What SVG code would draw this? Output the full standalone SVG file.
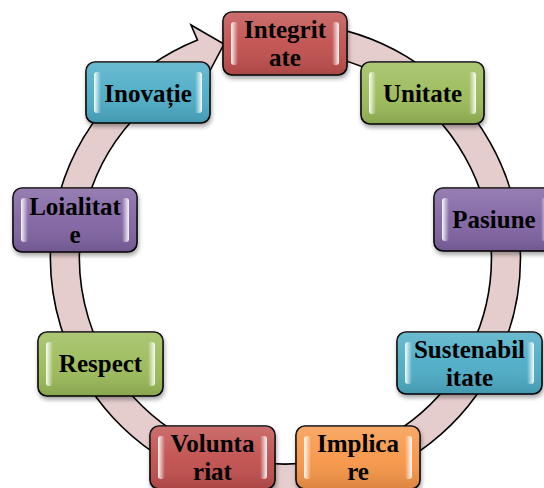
<svg xmlns="http://www.w3.org/2000/svg" width="544" height="488" viewBox="0 0 544 488">
<defs>
<style>
.ring{fill:#E6CDCD;stroke:#000;stroke-width:1.6;stroke-linejoin:miter}
.box{stroke:#000;stroke-width:1.6}
.ov{fill:url(#shade);stroke:none}
.hl{fill:url(#hlL)}
.hr{fill:url(#hlR)}
.t{font-family:"Liberation Serif","Times New Roman",serif;font-weight:bold;font-size:25px;fill:#000;text-anchor:middle}
.red{fill:#C0504D}
.green{fill:#9BBB59}
.purple{fill:#8064A2}
.blue{fill:#4BACC6}
.orange{fill:#F79646}
</style>
<linearGradient id="shade" x1="0" y1="0" x2="0" y2="1">
<stop offset="0" stop-color="#fff" stop-opacity="0.18"/>
<stop offset="0.5" stop-color="#fff" stop-opacity="0.05"/>
<stop offset="1" stop-color="#000" stop-opacity="0.12"/>
</linearGradient>
<linearGradient id="hlL" x1="0" y1="0" x2="1" y2="0">
<stop offset="0" stop-color="#fff" stop-opacity="0.95"/>
<stop offset="1" stop-color="#fff" stop-opacity="0"/>
</linearGradient>
<linearGradient id="hlR" x1="1" y1="0" x2="0" y2="0">
<stop offset="0" stop-color="#fff" stop-opacity="0.95"/>
<stop offset="1" stop-color="#fff" stop-opacity="0"/>
</linearGradient>
<filter id="sh" x="-10%" y="-10%" width="130%" height="140%">
<feDropShadow dx="1" dy="3" stdDeviation="2" flood-color="#000" flood-opacity="0.35"/>
</filter>
</defs>
<rect width="544" height="488" fill="#fff"/>
<g id="connectors">
<path class="ring" d="M 306,23.9 A 235 235 0 1 1 197.5,40.1 L 191,25 L 224,44 L 205,80 L 208.3,67 A 206 206 0 1 0 303.5,52.8 Z"/>
</g>
<g id="integritate" transform="translate(223,12)">
<rect class="box red" width="124" height="63" rx="9" filter="url(#sh)"/>
<rect class="ov" width="124" height="63" rx="9"/>
<rect class="hl" x="8" y="10" width="7" height="43" rx="3"/>
<rect class="hr" x="109" y="10" width="7" height="43" rx="3"/>
<text class="t" x="62" y="26">Integrit</text>
<text class="t" x="62" y="54">ate</text>
</g>
<g id="unitate" transform="translate(361,62)">
<rect class="box green" width="123" height="62" rx="9" filter="url(#sh)"/>
<rect class="ov" width="123" height="62" rx="9"/>
<rect class="hl" x="8" y="10" width="7" height="42" rx="3"/>
<rect class="hr" x="108" y="10" width="7" height="42" rx="3"/>
<text class="t" x="61.5" y="40">Unitate</text>
</g>
<g id="pasiune" transform="translate(434,188)">
<rect class="box purple" width="122" height="63" rx="9" filter="url(#sh)"/>
<rect class="ov" width="122" height="63" rx="9"/>
<rect class="hl" x="8" y="10" width="7" height="43" rx="3"/>
<rect class="hr" x="107" y="10" width="7" height="43" rx="3"/>
<text class="t" x="60" y="40">Pasiune</text>
</g>
<g id="sustenabilitate" transform="translate(397,332)">
<rect class="box blue" width="145" height="62" rx="9" filter="url(#sh)"/>
<rect class="ov" width="145" height="62" rx="9"/>
<rect class="hl" x="8" y="10" width="7" height="42" rx="3"/>
<rect class="hr" x="130" y="10" width="7" height="42" rx="3"/>
<text class="t" x="72.5" y="25.5">Sustenabil</text>
<text class="t" x="72.5" y="53.5">itate</text>
</g>
<g id="implicare" transform="translate(296,426)">
<rect class="box orange" width="124" height="63" rx="9" filter="url(#sh)"/>
<rect class="ov" width="124" height="63" rx="9"/>
<rect class="hl" x="8" y="10" width="7" height="43" rx="3"/>
<rect class="hr" x="109" y="10" width="7" height="43" rx="3"/>
<text class="t" x="62" y="26">Implica</text>
<text class="t" x="62" y="54">re</text>
</g>
<g id="voluntariat" transform="translate(150,426)">
<rect class="box red" width="125" height="63" rx="9" filter="url(#sh)"/>
<rect class="ov" width="125" height="63" rx="9"/>
<rect class="hl" x="8" y="10" width="7" height="43" rx="3"/>
<rect class="hr" x="110" y="10" width="7" height="43" rx="3"/>
<text class="t" x="62.5" y="26">Volunta</text>
<text class="t" x="62.5" y="54">riat</text>
</g>
<g id="respect" transform="translate(38,332)">
<rect class="box green" width="125" height="64" rx="9" filter="url(#sh)"/>
<rect class="ov" width="125" height="64" rx="9"/>
<rect class="hl" x="8" y="10" width="7" height="44" rx="3"/>
<rect class="hr" x="110" y="10" width="7" height="44" rx="3"/>
<text class="t" x="62.5" y="40">Respect</text>
</g>
<g id="loialitate" transform="translate(13,188)">
<rect class="box purple" width="124" height="64" rx="9" filter="url(#sh)"/>
<rect class="ov" width="124" height="64" rx="9"/>
<rect class="hl" x="8" y="10" width="7" height="44" rx="3"/>
<rect class="hr" x="109" y="10" width="7" height="44" rx="3"/>
<text class="t" x="62" y="26.5">Loialitat</text>
<text class="t" x="62" y="54.5">e</text>
</g>
<g id="inovatie" transform="translate(86,62)">
<rect class="box blue" width="124" height="61" rx="9" filter="url(#sh)"/>
<rect class="ov" width="124" height="61" rx="9"/>
<rect class="hl" x="8" y="10" width="7" height="41" rx="3"/>
<rect class="hr" x="109" y="10" width="7" height="41" rx="3"/>
<text class="t" x="62" y="39.5">Inovație</text>
</g>
</svg>
